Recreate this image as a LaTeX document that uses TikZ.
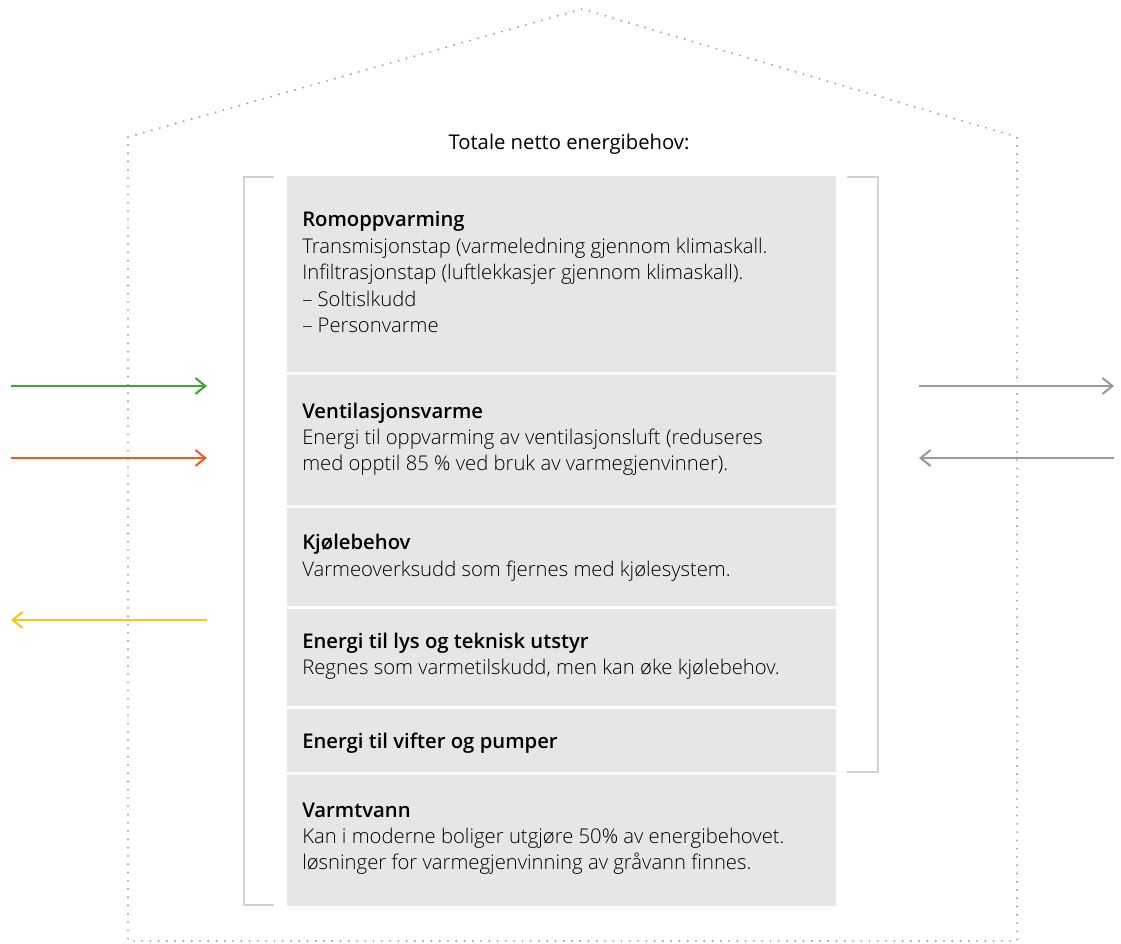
\documentclass[tikz,border=0pt]{standalone}
\usepackage{fontspec}
\def\myb{Open Sans Bold}
\IfFontExistsTF{Open Sans Semibold}{\def\myb{Open Sans Semibold}}{}
\IfFontExistsTF{Open Sans SemiBold}{\def\myb{Open Sans SemiBold}}{}
\IfFontExistsTF{Open Sans Light}{%
  \setmainfont{Open Sans Light}[BoldFont=\myb]%
  \newfontfamily\regfont{Open Sans}}{%
  \setmainfont{Fira Sans Light}[BoldFont={Fira Sans Medium},FakeStretch=1.18]%
  \newfontfamily\regfont{Fira Sans}[FakeStretch=1.18]}
\usetikzlibrary{arrows.meta}
\definecolor{boxgray}{HTML}{E6E6E6}
\definecolor{brgray}{HTML}{D2D2D2}
\definecolor{dotgray}{HTML}{A0A0A0}
\definecolor{argreen}{HTML}{3FA535}
\definecolor{arorange}{HTML}{F05A22}
\definecolor{aryellow}{HTML}{FCC419}
\definecolor{argray}{HTML}{999999}
\begin{document}
\begin{tikzpicture}[x=0.75pt,y=-0.75pt,
  box/.style={fill=boxgray,inner sep=0pt,minimum width=411.75pt},
  txt/.style={anchor=base west,inner sep=0pt,font=\fontsize{15.2}{18}\selectfont},
  head/.style={txt,font=\fontsize{15.2}{18}\selectfont\bfseries},
  house/.style={draw=dotgray,line width=1.6pt,line cap=round,dash pattern=on 0pt off 6.2pt},
  bracket/.style={draw=brgray,line width=1.5pt},
  flow/.style={line width=1.5pt,-{Straight Barb[length=7.5pt,width=12pt,line width=1.5pt]}}]
\useasboundingbox (0,0) rectangle (1121,944);
% house
\coordinate (hl) at (128,137);
\coordinate (ha) at (582,9);
\coordinate (hr) at (1017,137);
\coordinate (hbr) at (1017,941);
\coordinate (hbl) at (128,941);
\draw[house] (hl) -- (ha) -- (hr) -- (hbr) -- (hbl) -- cycle;
% title
\node[anchor=base,inner sep=0pt,font=\fontsize{15.2}{18}\selectfont\regfont] (title) at (569,150) {Totale netto energibehov:};
% boxes
\node[box,minimum height=147pt] (b1) at (561.5,274) {};
\node[box,minimum height=97.5pt] (b2) at (561.5,440) {};
\node[box,minimum height=73.5pt] (b3) at (561.5,557) {};
\node[box,minimum height=72.75pt] (b4) at (561.5,657.5) {};
\node[box,minimum height=47.25pt] (b5) at (561.5,740.5) {};
\node[box,minimum height=98.25pt] (b6) at (561.5,840.5) {};
% texts
\node[head] (t1) at (302,227) {Romoppvarming};
\node[txt] (t1a) at (302,253.5) {Transmisjonstap (varmeledning gjennom klimaskall.};
\node[txt] (t1b) at (302,280) {Infiltrasjonstap (luftlekkasjer gjennom klimaskall).};
\node[txt] (t1c) at (302,306.5) {– Soltislkudd};
\node[txt] (t1d) at (302,333) {– Personvarme};
\node[head] (t2) at (302,419) {Ventilasjonsvarme};
\node[txt] (t2a) at (302,445) {Energi til oppvarming av ventilasjonsluft (reduseres};
\node[txt] (t2b) at (302,471) {med opptil 85 \% ved bruk av varmegjenvinner).};
\node[head] (t3) at (302,550) {Kjølebehov};
\node[txt] (t3a) at (302,576) {Varmeoverksudd som fjernes med kjølesystem.};
\node[head] (t4) at (302,648) {Energi til lys og teknisk utstyr};
\node[txt] (t4a) at (302,674) {Regnes som varmetilskudd, men kan øke kjølebehov.};
\node[head] (t5) at (302,748) {Energi til vifter og pumper};
\node[head] (t6) at (302,817) {Varmtvann};
\node[txt] (t6a) at (302,843) {Kan i moderne boliger utgjøre 50\% av energibehovet.};
\node[txt] (t6b) at (302,869) {løsninger for varmegjenvinning av gråvann finnes.};
% brackets
\coordinate (lb1) at (274,177);
\coordinate (lb2) at (244,177);
\coordinate (lb3) at (244,905);
\coordinate (lb4) at (274,905);
\draw[bracket] (lb1) -- (lb2) -- (lb3) -- (lb4);
\coordinate (rb1) at (847,177);
\coordinate (rb2) at (878,177);
\coordinate (rb3) at (878,772);
\coordinate (rb4) at (847,772);
\draw[bracket] (rb1) -- (rb2) -- (rb3) -- (rb4);
% arrows
\coordinate (g0) at (11,386);
\coordinate (g1) at (207,386);
\coordinate (o0) at (11,458);
\coordinate (o1) at (207,458);
\coordinate (y0) at (207,620);
\coordinate (y1) at (11,620);
\coordinate (r0) at (919,386);
\coordinate (r1) at (1114,386);
\coordinate (s0) at (1114,458);
\coordinate (s1) at (919,458);
\draw[flow,argreen] (g0) -- (g1);
\draw[flow,arorange] (o0) -- (o1);
\draw[flow,aryellow] (y0) -- (y1);
\draw[flow,argray] (r0) -- (r1);
\draw[flow,argray] (s0) -- (s1);
\end{tikzpicture}
\end{document}
